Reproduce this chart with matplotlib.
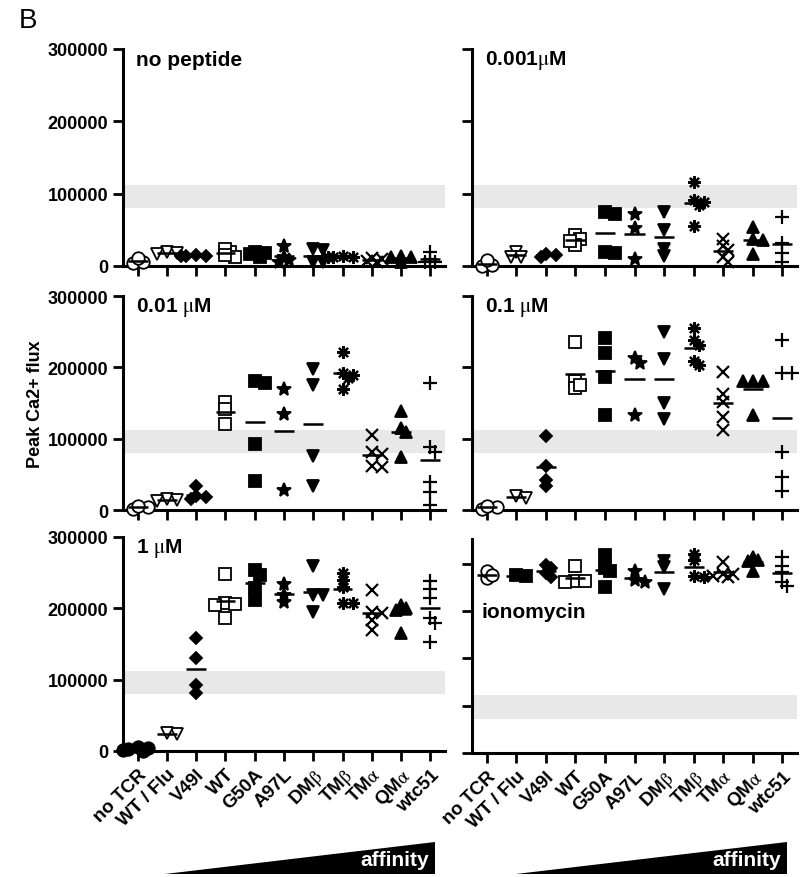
import numpy as np
import matplotlib
matplotlib.use('Agg')
import matplotlib.pyplot as plt
from matplotlib.patches import Polygon

plt.rcParams['font.family'] = ['Liberation Sans', 'DejaVu Sans']
plt.rcParams['mathtext.fontset'] = 'stix'

# ---- data ----
categories = ['no TCR', 'WT / Flu', 'V49I', 'WT', 'G50A', 'A97L',
              r'DM$\mathrm{\beta}$', r'TM$\mathrm{\beta}$', r'TM$\mathrm{\alpha}$',
              r'QM$\mathrm{\alpha}$', 'wtc51']

no_peptide = [[4000, 6000, 11000], [20000, 18000, 17000], [14000, 14000, 15000, 14000],
              [20000, 24000, 13000, 15000], [20000, 16000, 13000, 18000],
              [28000, 8000, 5000, 12000], [22000, 24000, 6000, 6000],
              [13000, 13000, 14000, 12000], [10000, 11000, 6000, 7000],
              [13000, 13000, 14000, 6000], [20000, 10000, 6000, 5000]]

pep_0001 = [[0, 2000, 8000], [20000, 13000, 12000], [15000, 13000, 17000],
            [43000, 38000, 29000, 35000], [75000, 72000, 20000, 18000],
            [72000, 52000, 9000], [75000, 50000, 24000, 14000],
            [116000, 91000, 89000, 84000, 55000], [38000, 27000, 22000, 13000, 6000],
            [54000, 38000, 36000, 17000], [68000, 32000, 18000, 5000]]

pep_001 = [[1000, 4000, 6000], [15000, 13000, 14000], [34000, 18000, 19000, 15000],
           [152000, 142000, 120000], [178000, 181000, 92000, 40000],
           [169000, 134000, 28000], [197000, 175000, 76000, 34000],
           [222000, 192000, 189000, 185000, 170000], [105000, 81000, 78000, 62000, 60000],
           [139000, 115000, 109000, 75000], [178000, 88000, 81000, 39000, 25000, 7500]]

pep_01 = [[1000, 4000, 6000], [19000, 17000], [104000, 61000, 42000, 34000],
          [236000, 181000, 171000, 175000], [241000, 220000, 187000, 133000],
          [213000, 206000, 133000], [249000, 211000, 150000, 127000],
          [255000, 238000, 231000, 209000, 203000], [194000, 163000, 152000, 131000, 112000],
          [181000, 181000, 181000, 133000], [238000, 192000, 192000, 81000, 46000, 27000]]

pep_1 = [[0, 1500, 3000, 4500, 6000], [24000, 25000], [158000, 131000, 92000, 81000],
         [248000, 207000, 206000, 205000, 186000], [254000, 247000, 228000, 211000],
         [234000, 219000, 209000], [259000, 219000, 219000, 195000],
         [250000, 240000, 230000, 207000, 207000], [226000, 195000, 194000, 184000, 170000],
         [200000, 197000, 204000, 165000], [239000, 227000, 215000, 186000, 180000, 153000]]

ionomycin = [[925000, 965000, 940000], [937000, 940000], [997000, 950000, 930000, 980000],
             [990000, 908000, 907000, 908000], [1045000, 980000, 965000, 878000],
             [965000, 913000, 907000], [1015000, 982000, 868000],
             [1052000, 1020000, 930000, 938000], [1010000, 948000, 938000, 932000, 948000],
             [1020000, 1035000, 1018000, 965000], [1038000, 990000, 955000, 903000, 885000]]

band_pep = (80000, 112000)
band_iono = (182000, 305000)

# marker styles per category
markers = ['o', 'v', 'D', 's', 's', '*', 'v', (8, 2, 0), 'x', '^', '+']
filled = [False, False, True, False, True, True, True, True, True, True, True]
msizes = [9, 9, 6.5, 9, 8.5, 10, 8.5, 9, 9, 8.5, 9.5]

W, H = 800, 878


def pos(l, r, t, b):
    return [l / W, 1 - b / H, (r - l) / W, (b - t) / H]


def swarm(vals, ypx, xpx, step=5.0, gap=5.5):
    """simple beeswarm offsets (in category units), points may overlap a bit"""
    vals = np.asarray(vals, float)
    offs = np.zeros(len(vals))
    placed = []
    for i in np.argsort(-vals):
        y = vals[i] * ypx
        for k in [0, 1, -1, 2, -2, 3, -3]:
            x = k * step
            if all(np.hypot(x - px, y - py) >= gap for px, py in placed):
                break
        placed.append((x, y))
        offs[i] = x / xpx
    return offs


fig = plt.figure(figsize=(8, 8.78), dpi=100)

panels = [
    (no_peptide, pos(123, 445, 50, 267), 'no peptide', True, False, False),
    (pep_0001, pos(472, 797, 50, 267), r'0.001$\mathrm{\mu}$M', False, False, False),
    (pep_001, pos(123, 445, 297, 511), r'0.01 $\mathrm{\mu}$M', True, False, False),
    (pep_01, pos(472, 797, 297, 511), r'0.1 $\mathrm{\mu}$M', False, False, False),
    (pep_1, pos(123, 445, 538, 752), r'1 $\mathrm{\mu}$M', True, True, False),
    (ionomycin, pos(472, 797, 540, 754), 'ionomycin', False, True, True),
]

for data, rect, title, ylabels, xlabels, iono in panels:
    ax = fig.add_axes(rect)
    if iono:
        ytop = 1132000
        yt = [0, 250000, 500000, 750000, 1000000]
        band = band_iono
    else:
        ytop = 300000
        yt = [0, 100000, 200000, 300000]
        band = band_pep
    ax.set_xlim(-0.5, 10.5)
    ax.set_ylim(0, ytop)
    ax.axhspan(band[0], band[1], color='#e8e8e8', lw=0, zorder=0)

    ypx = rect[3] * H / ytop
    xpx = rect[2] * W / 11.0
    for i, vals in enumerate(data):
        m = markers[i]
        f = filled[i]
        if iono and i == 1:
            m, f = 's', True
        if not iono and i == 0 and data is pep_1:
            f = True
        offs = swarm(vals, ypx, xpx)
        ax.plot(i + offs, vals, linestyle='none', marker=m, ms=msizes[i],
                mfc='black' if f else 'white', mec='black',
                mew=1.6 if m in ('x', '+', (8, 2, 0)) else 1.3,
                clip_on=False, zorder=3)
        ax.hlines(np.mean(vals), i - 0.34, i + 0.34, color='black', lw=1.8,
                  zorder=4, clip_on=False)

    for s in ['top', 'right']:
        ax.spines[s].set_visible(False)
    for s in ['left', 'bottom']:
        ax.spines[s].set_linewidth(2.2)
    ax.tick_params(direction='out', length=7, width=2)
    ax.set_xticks(range(11))
    ax.set_yticks(yt)
    if ylabels:
        ax.set_yticklabels([str(v) for v in yt], fontweight='bold', fontsize=13)
    else:
        ax.set_yticklabels([])
    if xlabels:
        ax.set_xticklabels(categories, rotation=45, ha='right',
                           rotation_mode='anchor', fontweight='bold', fontsize=13.5)
    else:
        ax.set_xticklabels([])

    if iono:
        ax.text(0.03, 0.66, title, transform=ax.transAxes, fontsize=15,
                fontweight='bold', va='center', ha='left')
    else:
        ax.text(0.04, 0.95, title, transform=ax.transAxes, fontsize=15,
                fontweight='bold', va='center', ha='left')

# y label and panel letter
fig.text(35 / W, 1 - 404 / H, 'Peak Ca2+ flux', rotation=90, fontsize=13,
         fontweight='bold', ha='center', va='center')
fig.text(19 / W, 1 - 21 / H, 'B', fontsize=20, ha='left', va='center')

# affinity wedges
for x0, x1 in [(165, 435), (516, 787)]:
    tri = Polygon([(x0 / W, 1 - 875 / H), (x1 / W, 1 - 843 / H), (x1 / W, 1 - 875 / H)],
                  closed=True, facecolor='black', edgecolor='none',
                  transform=fig.transFigure)
    fig.patches.append(tri)
    fig.text((x1 - 6) / W, 1 - 861 / H, 'affinity', color='white', fontsize=15,
             fontweight='bold', ha='right', va='center')

fig.savefig('out.png', dpi=100)
